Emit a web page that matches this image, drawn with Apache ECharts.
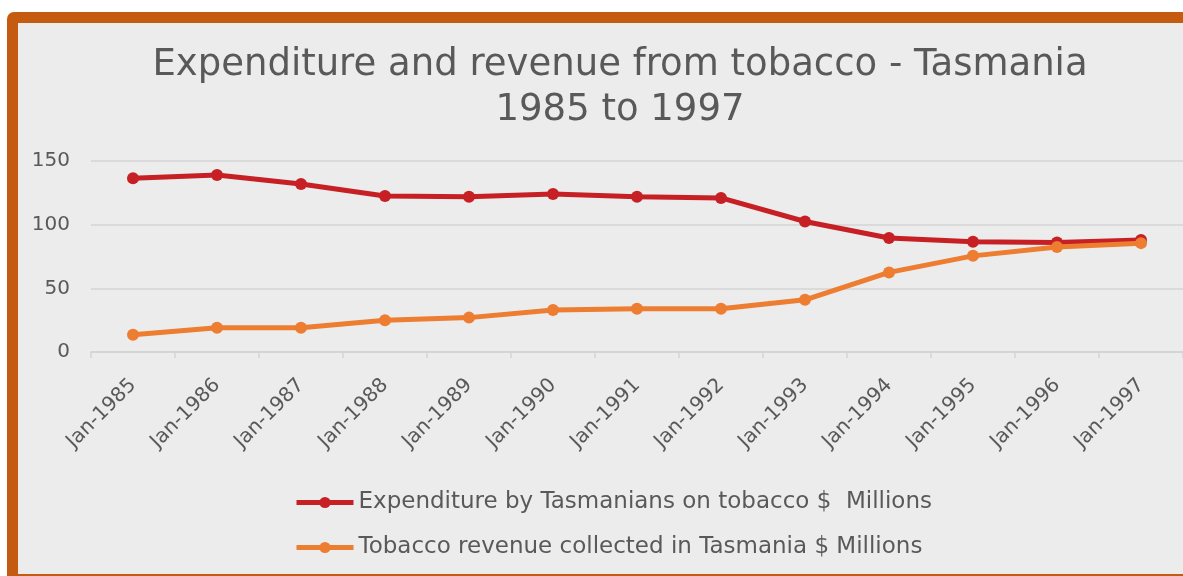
<!DOCTYPE html>
<html><head><meta charset="utf-8">
<script src="https://cdn.jsdelivr.net/npm/echarts@6/dist/echarts.min.js"></script>
<style>
html,body{margin:0;padding:0;background:#fff;width:1183px;height:576px;overflow:hidden;}
#frame{position:absolute;left:7px;top:12px;width:1220px;height:573px;box-sizing:border-box;border:11px solid #C55A11;border-radius:7px;background:#ececec;}
#chart{position:absolute;left:0;top:0;width:1183px;height:576px;}
</style></head>
<body>
<div id="frame"></div>
<div id="chart"></div>
<script>
const categories = ['Jan-1985','Jan-1986','Jan-1987','Jan-1988','Jan-1989','Jan-1990','Jan-1991','Jan-1992','Jan-1993','Jan-1994','Jan-1995','Jan-1996','Jan-1997'];
const expenditure = [136.5, 139, 132, 122.5, 122, 124, 122, 121, 102.5, 89.5, 86.5, 86, 88];
const revenue = [13.5, 19, 19, 25, 27, 33, 34, 34, 41, 62.5, 75.5, 82.5, 85.5];
const seriesNames = ['Expenditure by Tasmanians on tobacco $  Millions', 'Tobacco revenue collected in Tasmania $ Millions'];
const titleText = 'Expenditure and revenue from tobacco - Tasmania\n1985 to 1997';

const FONT = '"DejaVu Sans", sans-serif';
const chart = echarts.init(document.getElementById('chart'), null, {renderer:'canvas'});
chart.setOption({
  backgroundColor: 'transparent',
  animation: false,
  title: {
    text: titleText,
    left: 615, top: 38, textAlign: 'center',
    textStyle: {fontFamily: FONT, fontSize: 37, fontWeight: 'normal', color: '#595959', lineHeight: 45}
  },
  legend: {
    orient: 'vertical', left: 289, top: 486, itemGap: 22, itemWidth: 57, itemHeight: 14,
    textStyle: {fontFamily: FONT, fontSize: 23, color: '#595959'},
    lineStyle: {width: 5},
    data: seriesNames
  },
  grid: {left: 91, top: 161, width: 1095, height: 191, containLabel: false},
  xAxis: {
    type: 'category', data: categories, boundaryGap: true,
    axisLine: {show: true, lineStyle: {color: '#d4d4d4', width: 1.5}},
    axisTick: {show: true, length: 6, lineStyle: {color: '#d4d4d4', width: 1.5}},
    axisLabel: {rotate: 45, fontFamily: FONT, fontSize: 20, color: '#595959', margin: 30, interval: 0}
  },
  yAxis: {
    type: 'value', min: 0, max: 150, interval: 50,
    axisLine: {show: false}, axisTick: {show: false},
    splitLine: {lineStyle: {color: '#d4d4d4', width: 1.5}},
    axisLabel: {fontFamily: FONT, fontSize: 20, color: '#595959', margin: 21}
  },
  series: [
    {name: seriesNames[0], type: 'line', data: expenditure, symbol: 'circle', symbolSize: 12,
     lineStyle: {width: 5, color: '#C62025'}, itemStyle: {color: '#C62025'}, z: 2},
    {name: seriesNames[1], type: 'line', data: revenue, symbol: 'circle', symbolSize: 12,
     lineStyle: {width: 5, color: '#ED7D31'}, itemStyle: {color: '#ED7D31'}, z: 3}
  ]
});
</script>
</body></html>
